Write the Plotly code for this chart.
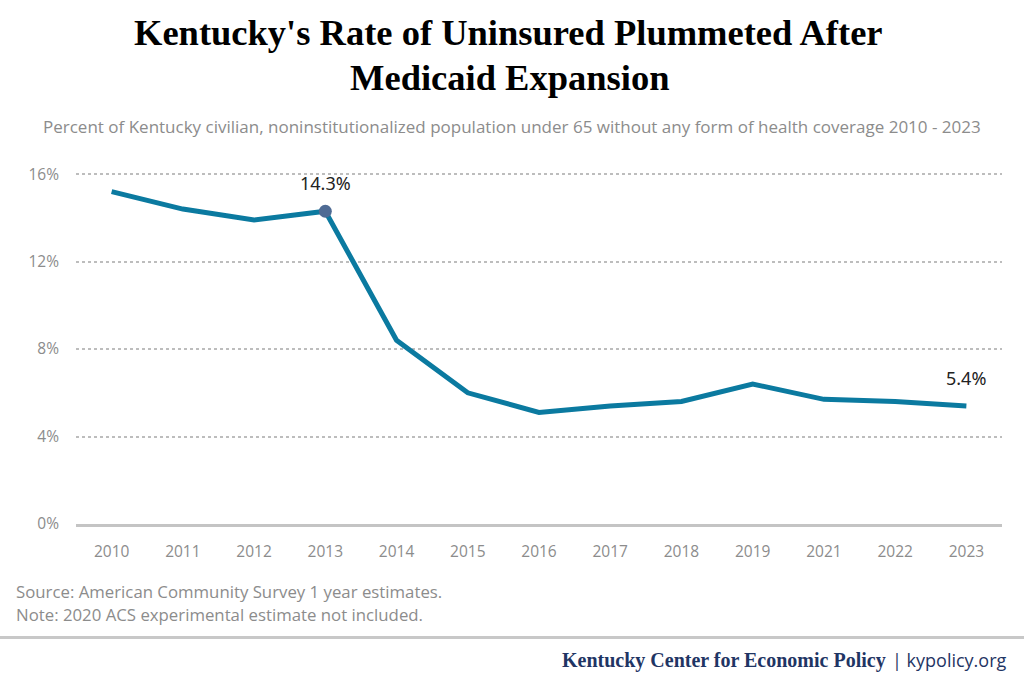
import plotly.graph_objects as go

years = ["2010", "2011", "2012", "2013", "2014", "2015", "2016", "2017", "2018", "2019", "2021", "2022", "2023"]
uninsured = [15.2, 14.4, 13.9, 14.3, 8.4, 6.0, 5.1, 5.4, 5.6, 6.4, 5.7, 5.6, 5.4]
y_ticks = [0, 4, 8, 12, 16]
y_tick_labels = ["0%", "4%", "8%", "12%", "16%"]
highlight_years = ["2013"]
label_years = ["2013", "2023"]

W, H = 1024, 683
Y_TOP = 16.05
PX_PER_UNIT = 350 / 16.0
L, R, B = 76, 22, 158.5
T = H - B - Y_TOP * PX_PER_UNIT
PW, PH = W - L - R, H - T - B

def px(x):
    return (x - L) / PW

def py(y):
    return (H - B - y) / PH

LINE = "#0b7aa0"
MARK = "#4f6b94"
GRAY = "#8c8c8c"

fig = go.Figure()
fig.add_trace(go.Scatter(x=years, y=uninsured, mode="lines",
                         line=dict(color=LINE, width=5), hoverinfo="x+y", cliponaxis=False))
hx = [y for y in years if y in highlight_years]
hy = [v for y, v in zip(years, uninsured) if y in highlight_years]
fig.add_trace(go.Scatter(x=hx, y=hy, mode="markers",
                         marker=dict(color=MARK, size=13), cliponaxis=False))
for i, (yr, v) in enumerate(zip(years, uninsured)):
    if yr in label_years:
        fig.add_annotation(x=i, y=v, xref="x", yref="y", text=f"{v:.1f}%", showarrow=False,
                           yshift=28, font=dict(family="Noto Sans", size=18, color="#222222"))

# Title
fig.add_annotation(xref="paper", yref="paper", x=px(508), y=py(33), text="<b>Kentucky's Rate of Uninsured Plummeted After</b>",
                   showarrow=False, xanchor="center", yanchor="middle",
                   font=dict(family="Liberation Serif", size=36.5, color="#000000"))
fig.add_annotation(xref="paper", yref="paper", x=px(509), y=py(78), text="<b>Medicaid Expansion</b>",
                   showarrow=False, xanchor="center", yanchor="middle",
                   font=dict(family="Liberation Serif", size=36.5, color="#000000"))
fig.add_annotation(xref="paper", yref="paper", x=px(512), y=py(127),
                   text="Percent of Kentucky civilian, noninstitutionalized population under 65 without any form of health coverage 2010 - 2023",
                   showarrow=False, xanchor="center", yanchor="middle",
                   font=dict(family="Open Sans", size=17, color=GRAY))
# Source / note
fig.add_annotation(xref="paper", yref="paper", x=px(14), y=py(592),
                   text="Source: American Community Survey 1 year estimates.",
                   showarrow=False, xanchor="left", yanchor="middle",
                   font=dict(family="Open Sans", size=16.8, color=GRAY))
fig.add_annotation(xref="paper", yref="paper", x=px(14), y=py(615),
                   text="Note: 2020 ACS experimental estimate not included.",
                   showarrow=False, xanchor="left", yanchor="middle",
                   font=dict(family="Open Sans", size=16.8, color=GRAY))
# Separator
fig.add_shape(type="line", xref="paper", yref="paper", x0=px(0), x1=px(W), y0=py(638), y1=py(638),
              line=dict(color="#c8c8c8", width=3))
# Footer
fig.add_annotation(xref="paper", yref="paper", x=px(1009), y=py(661),
                   text="| kypolicy.org", showarrow=False, xanchor="right", yanchor="middle",
                   font=dict(family="Open Sans", size=18, color="#1f3564"))
fig.add_annotation(xref="paper", yref="paper", x=px(888), y=py(661),
                   text="<b>Kentucky Center for Economic Policy</b>", showarrow=False, xanchor="right", yanchor="middle",
                   font=dict(family="Liberation Serif", size=20, color="#1f3564"))

fig.update_layout(
    width=W, height=H,
    margin=dict(l=L, r=R, t=T, b=B, autoexpand=False),
    paper_bgcolor="white", plot_bgcolor="white",
    showlegend=False,
    xaxis=dict(type="category", range=[-0.5, len(years) - 0.5], showgrid=False,
               showline=True, linecolor="#c4c4c4", linewidth=2.5, ticks="",
               ticklabelstandoff=12,
               tickfont=dict(family="Open Sans", size=15.5, color=GRAY), fixedrange=True),
    yaxis=dict(range=[0, Y_TOP], tickvals=y_ticks, ticktext=y_tick_labels, showgrid=True,
               gridcolor="#bdbdbd", gridwidth=2, griddash="dot", zeroline=False,
               showline=False, ticks="", ticklabelstandoff=16,
               tickfont=dict(family="Open Sans", size=15.5, color=GRAY), fixedrange=True),
)

fig.write_html("out.html", config={"displayModeBar": False},
               post_script="document.body.style.margin='0';document.body.style.padding='0';")
